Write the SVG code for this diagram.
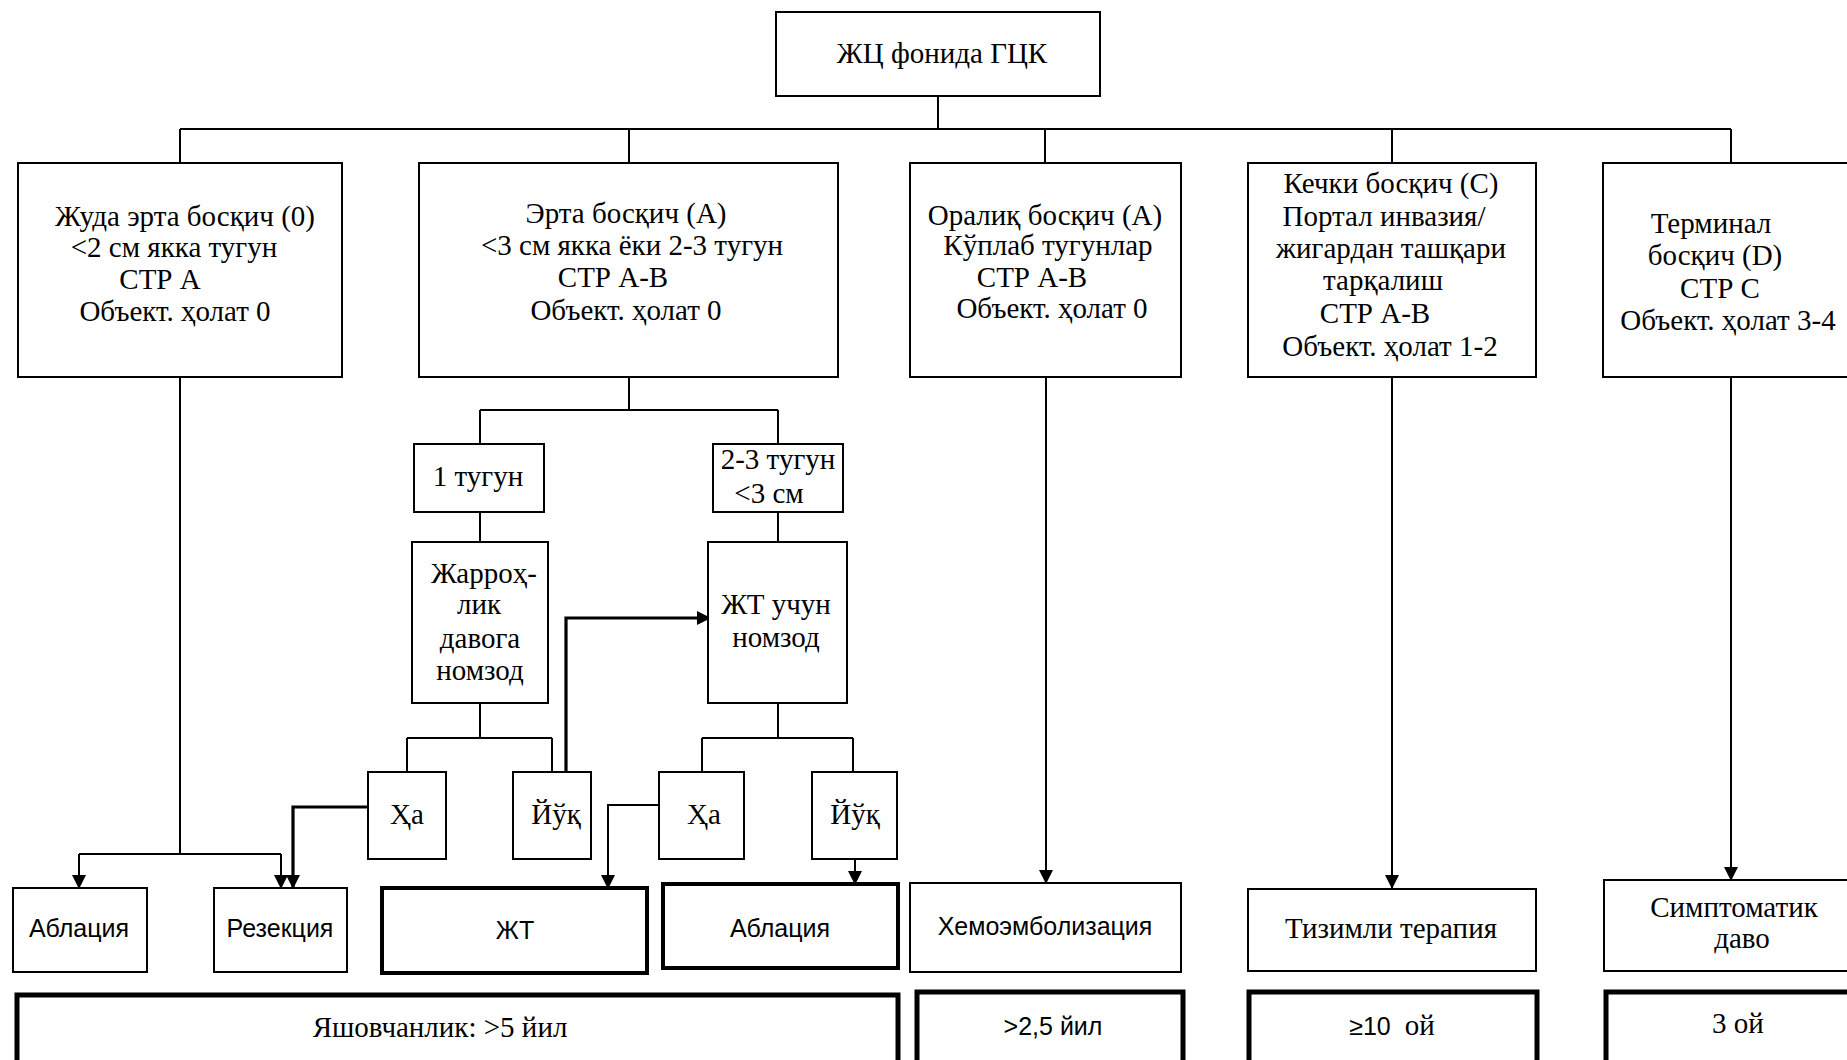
<svg xmlns="http://www.w3.org/2000/svg" width="1847" height="1060" viewBox="0 0 1847 1060">
  <style>
    .box { fill: #ffffff; stroke: #000000; stroke-width: 2; }
    .bold { fill: #ffffff; stroke: #000000; stroke-width: 4; }
    .heavy { fill: #ffffff; stroke: #000000; stroke-width: 5; }
    .ln { fill: none; stroke: #000000; stroke-width: 2; }
    .ln-thick { fill: none; stroke: #000000; stroke-width: 3.2; }
    .serif { font-family: "Liberation Serif", "DejaVu Serif", serif; font-size: 29px; fill: #000000; text-anchor: middle; }
    .sans { font-family: "Liberation Sans", "DejaVu Sans", sans-serif; font-size: 25px; fill: #000000; text-anchor: middle; }
  </style>
  <defs>
    <marker id="arrow" markerUnits="userSpaceOnUse" markerWidth="14" markerHeight="14" refX="13" refY="7" orient="auto">
      <path d="M0,0 L14,7 L0,14 Z" fill="#000000"/>
    </marker>
  </defs>
  <rect x="0" y="0" width="1847" height="1060" fill="#ffffff"/>

  <!-- connectors -->
  <g id="connectors">
    <path class="ln" d="M938,96 V129 M180,129 H1731 M180,129 V163 M629,129 V163 M1045,129 V163 M1392,129 V163 M1731,129 V163"/>
    <!-- very early stage -->
    <path class="ln" d="M180,377 V854 M79,854 H281"/>
    <path class="ln" d="M79,854 V888" marker-end="url(#arrow)"/>
    <path class="ln" d="M281,854 V888" marker-end="url(#arrow)"/>
    <!-- early stage subtree -->
    <path class="ln" d="M629,377 V410 M480,410 H778 M480,410 V444 M778,410 V444"/>
    <path class="ln" d="M480,512 V542 M778,512 V542"/>
    <path class="ln" d="M480,703 V738 M407,738 H552 M407,738 V772 M552,738 V772"/>
    <path class="ln" d="M778,703 V738 M702,738 H853 M702,738 V772 M853,738 V772"/>
    <path class="ln-thick" d="M566,772 V618 H710" marker-end="url(#arrow)"/>
    <path class="ln-thick" d="M368,807 H293 V888" marker-end="url(#arrow)"/>
    <path class="ln" d="M659,805 H608 V888" marker-end="url(#arrow)"/>
    <path class="ln" d="M855,859 V884" marker-end="url(#arrow)"/>
    <!-- later stages -->
    <path class="ln" d="M1046,377 V883" marker-end="url(#arrow)"/>
    <path class="ln" d="M1392,377 V888" marker-end="url(#arrow)"/>
    <path class="ln" d="M1731,377 V880" marker-end="url(#arrow)"/>
  </g>

  <!-- root -->
  <g id="root">
    <rect class="box" x="776" y="12" width="324" height="84"/>
    <text class="serif" x="942" y="63">ЖЦ фонида ГЦК</text>
  </g>

  <!-- stages -->
  <g id="stage-0">
    <rect class="box" x="18" y="163" width="324" height="214"/>
    <text class="serif" x="185" y="226">Жуда эрта босқич (0)</text>
    <text class="serif" x="174" y="257">&lt;2 см якка тугун</text>
    <text class="serif" x="160" y="289">СТР А</text>
    <text class="serif" x="175" y="321">Объект. ҳолат 0</text>
  </g>
  <g id="stage-a">
    <rect class="box" x="419" y="163" width="419" height="214"/>
    <text class="serif" x="626" y="223">Эрта босқич (А)</text>
    <text class="serif" x="632" y="255">&lt;3 см якка ёки 2-3 тугун</text>
    <text class="serif" x="613" y="287">СТР А-В</text>
    <text class="serif" x="626" y="320">Объект. ҳолат 0</text>
  </g>
  <g id="stage-b">
    <rect class="box" x="910" y="163" width="271" height="214"/>
    <text class="serif" x="1045" y="225">Оралиқ босқич (А)</text>
    <text class="serif" x="1048" y="255">Кўплаб тугунлар</text>
    <text class="serif" x="1032" y="287">СТР А-В</text>
    <text class="serif" x="1052" y="318">Объект. ҳолат 0</text>
  </g>
  <g id="stage-c">
    <rect class="box" x="1248" y="163" width="288" height="214"/>
    <text class="serif" x="1391" y="193">Кечки босқич (С)</text>
    <text class="serif" x="1384" y="226">Портал инвазия/</text>
    <text class="serif" x="1391" y="258">жигардан ташқари</text>
    <text class="serif" x="1383" y="290">тарқалиш</text>
    <text class="serif" x="1375" y="323">СТР А-В</text>
    <text class="serif" x="1390" y="356">Объект. ҳолат 1-2</text>
  </g>
  <g id="stage-d">
    <rect class="box" x="1603" y="163" width="260" height="214"/>
    <text class="serif" x="1711" y="233">Терминал</text>
    <text class="serif" x="1715" y="265">босқич (D)</text>
    <text class="serif" x="1720" y="298">СТР С</text>
    <text class="serif" x="1728" y="330">Объект. ҳолат 3-4</text>
  </g>

  <!-- early stage branches -->
  <g id="single-nodule">
    <rect class="box" x="414" y="444" width="130" height="68"/>
    <text class="serif" x="478" y="486">1 тугун</text>
  </g>
  <g id="multi-nodule">
    <rect class="box" x="713" y="444" width="130" height="68"/>
    <text class="serif" x="778" y="469">2-3 тугун</text>
    <text class="serif" x="769" y="503">&lt;3 см</text>
  </g>
  <g id="surgery-candidate">
    <rect class="box" x="412" y="542" width="136" height="161"/>
    <text class="serif" x="484" y="583">Жарроҳ-</text>
    <text class="serif" x="479" y="614">лик</text>
    <text class="serif" x="480" y="648">давога</text>
    <text class="serif" x="480" y="680">номзод</text>
  </g>
  <g id="transplant-candidate">
    <rect class="box" x="708" y="542" width="139" height="161"/>
    <text class="serif" x="776" y="614">ЖТ учун</text>
    <text class="serif" x="776" y="647">номзод</text>
  </g>
  <g id="yes-1">
    <rect class="box" x="368" y="772" width="78" height="87"/>
    <text class="serif" x="407" y="824">Ҳа</text>
  </g>
  <g id="no-1">
    <rect class="box" x="513" y="772" width="78" height="87"/>
    <text class="serif" x="556" y="824">Йўқ</text>
  </g>
  <g id="yes-2">
    <rect class="box" x="659" y="772" width="85" height="87"/>
    <text class="serif" x="704" y="824">Ҳа</text>
  </g>
  <g id="no-2">
    <rect class="box" x="812" y="772" width="85" height="87"/>
    <text class="serif" x="855" y="824">Йўқ</text>
  </g>

  <!-- treatments -->
  <g id="ablation-1">
    <rect class="box" x="13" y="888" width="134" height="84"/>
    <text class="sans" x="79" y="937">Аблация</text>
  </g>
  <g id="resection">
    <rect class="box" x="214" y="888" width="133" height="84"/>
    <text class="sans" x="280" y="937">Резекция</text>
  </g>
  <g id="transplant">
    <rect class="bold" x="382" y="888" width="265" height="85"/>
    <text class="sans" x="515" y="939">ЖТ</text>
  </g>
  <g id="ablation-2">
    <rect class="bold" x="663" y="884" width="235" height="84"/>
    <text class="sans" x="780" y="937">Аблация</text>
  </g>
  <g id="chemoembolization">
    <rect class="box" x="910" y="883" width="271" height="89"/>
    <text class="sans" x="1045" y="935">Хемоэмболизация</text>
  </g>
  <g id="systemic-therapy">
    <rect class="box" x="1248" y="889" width="288" height="82"/>
    <text class="serif" x="1391" y="938">Тизимли терапия</text>
  </g>
  <g id="symptomatic">
    <rect class="box" x="1604" y="880" width="260" height="91"/>
    <text class="serif" x="1734" y="917">Симптоматик</text>
    <text class="serif" x="1742" y="948">даво</text>
  </g>

  <!-- survival -->
  <g id="survival-early">
    <rect class="heavy" x="17" y="995" width="881" height="90"/>
    <text class="serif" x="440" y="1037">Яшовчанлик: &gt;5 йил</text>
  </g>
  <g id="survival-intermediate">
    <rect class="heavy" x="917" y="992" width="266" height="90"/>
    <text class="sans" x="1053" y="1035">&gt;2,5 йил</text>
  </g>
  <g id="survival-advanced">
    <rect class="heavy" x="1249" y="992" width="288" height="90"/>
    <text class="sans" x="1392" y="1035">≥10<tspan dx="14" font-family="Liberation Serif, serif" font-size="29">ой</tspan></text>
  </g>
  <g id="survival-terminal">
    <rect class="heavy" x="1606" y="992" width="260" height="90"/>
    <text class="serif" x="1738" y="1033">3 ой</text>
  </g>
</svg>
